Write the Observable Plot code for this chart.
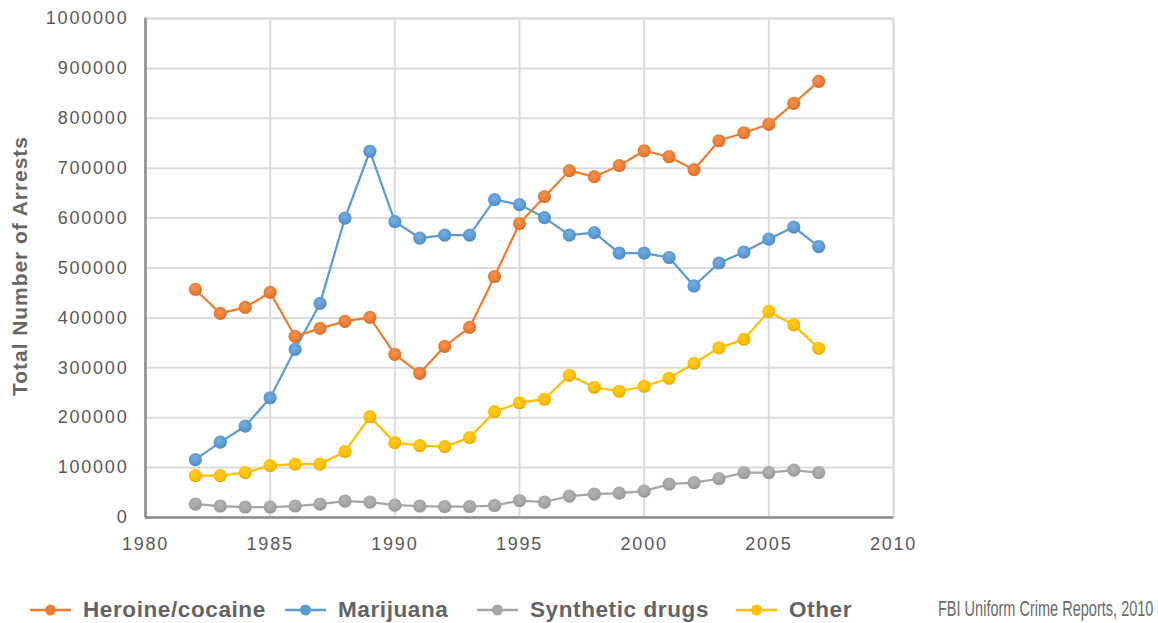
<!DOCTYPE html>
<html>
<head>
<meta charset="utf-8">
<script src="https://cdn.jsdelivr.net/npm/d3@7"></script>
<script src="https://cdn.jsdelivr.net/npm/@observablehq/plot@0.6"></script>
<style>
  html, body { margin: 0; padding: 0; background: #fff; }
  #wrap { position: relative; width: 1158px; height: 623px; overflow: hidden; font-family: "Liberation Sans", Arial, sans-serif; }
  #legend { position: absolute; left: 0; top: 596px; height: 28px; }
  .item { position: absolute; display: flex; align-items: center; height: 28px; top: 0; white-space: nowrap; }
  .item svg { margin-right: 12px; }
  .item span { font-weight: bold; font-size: 22.5px; color: #636366; letter-spacing: 0.6px; }
  #source { position: absolute; right: 5px; top: 596px; font-family: "Liberation Sans", Arial, sans-serif; font-size: 22px; color: #6a6a6a; transform: scaleX(0.66); transform-origin: right center; white-space: nowrap; }
</style>
</head>
<body>
<div id="wrap">
  <div id="chart"></div>
  <div id="legend"></div>
  <div id="source">FBI Uniform Crime Reports, 2010</div>
</div>
<script>
// Drug arrests in the US by drug type, 1982–2007
const years = [1982, 1983, 1984, 1985, 1986, 1987, 1988, 1989, 1990, 1991, 1992, 1993, 1994,
               1995, 1996, 1997, 1998, 1999, 2000, 2001, 2002, 2003, 2004, 2005, 2006, 2007];

const heroineCocaine = [457000, 409000, 421000, 451000, 363000, 379000, 393000, 401000, 327000, 289000, 343000, 381000, 483000,
                        589000, 643000, 695000, 683000, 705000, 735000, 723000, 697000, 755000, 771000, 788000, 830000, 874000];
const marijuana = [116000, 151000, 183000, 240000, 337000, 429000, 600000, 734000, 593000, 560000, 566000, 566000, 637000,
                   627000, 601000, 566000, 571000, 530000, 530000, 521000, 464000, 510000, 532000, 558000, 582000, 543000];
const syntheticDrugs = [27000, 23000, 21000, 21000, 23000, 27000, 33000, 31000, 25000, 23000, 22000, 22000, 24000,
                        34000, 31000, 43000, 47000, 49000, 53000, 67000, 70000, 78000, 90000, 90000, 95000, 90000];
const other = [84000, 84000, 90000, 104000, 107000, 107000, 132000, 202000, 150000, 144000, 142000, 160000, 212000,
               230000, 237000, 285000, 261000, 253000, 263000, 279000, 309000, 340000, 357000, 413000, 386000, 339000];

const seriesNames = ["Heroine/cocaine", "Marijuana", "Synthetic drugs", "Other"];
const seriesValues = [heroineCocaine, marijuana, syntheticDrugs, other];
const seriesColors = ["#ED7D31", "#5B9BD5", "#A5A5A5", "#FFC000"];

// Drawing order: lowest series first so the upper lines sit on top
const drawOrder = [2, 3, 1, 0];

const rows = seriesNames.map((name, i) => years.map((year, j) => ({series: name, year, value: seriesValues[i][j]})));

const gridColor = "#dcdcdc";
const axisColor = "#8c8c8c";
const tickColor = "#595959";

const marks = [
  Plot.gridY({ticks: 10, stroke: gridColor, strokeOpacity: 1, strokeWidth: 2}),
  Plot.gridX({ticks: 6, stroke: gridColor, strokeOpacity: 1, strokeWidth: 2}),
  Plot.frame({stroke: gridColor, strokeWidth: 2}),
  Plot.ruleY([0], {stroke: axisColor, strokeWidth: 2.5}),
  Plot.ruleX([1980], {stroke: axisColor, strokeWidth: 2.5}),
  Plot.axisY({ticks: 10, tickSize: 0, tickPadding: 17, tickFormat: "d", label: null,
              fontSize: 18, fill: tickColor}),
  Plot.axisX({ticks: 6, tickSize: 0, tickPadding: 20, tickFormat: "d", label: null,
              fontSize: 18, fill: tickColor}),
  Plot.text(["Total Number of Arrests"], {frameAnchor: "left", rotate: -90, dx: -125, dy: -2,
              fontSize: 21, fontWeight: "bold", fill: "#666666", textAnchor: "middle", lineAnchor: "middle",
              className: "ytitle"})
];

for (const i of drawOrder) {
  marks.push(Plot.line(rows[i], {x: "year", y: "value", stroke: seriesColors[i], strokeWidth: 2.25}));
  marks.push(Plot.dot(rows[i], {x: "year", y: "value", r: 6.6, fill: `url(#dotShade${i})`, stroke: "none"}));
}

const chart = Plot.plot({
  width: 1158,
  height: 585,
  marginLeft: 145,
  marginRight: 265,
  marginTop: 18,
  marginBottom: 68,
  style: {fontFamily: "'Liberation Sans', Arial, sans-serif", background: "#fff", overflow: "visible"},
  x: {domain: [1980, 2010]},
  y: {domain: [0, 1000000]},
  marks
});

// Soft radial shading for the markers
const svgNS = "http://www.w3.org/2000/svg";
const defs = document.createElementNS(svgNS, "defs");
seriesColors.forEach((c, i) => {
  const g = document.createElementNS(svgNS, "radialGradient");
  g.setAttribute("id", `dotShade${i}`);
  g.setAttribute("cx", "45%");
  g.setAttribute("cy", "38%");
  g.setAttribute("r", "65%");
  const base = d3.color(c);
  const stops = [[0, d3.interpolateRgb(c, "#ffffff")(0.18)], [0.6, base.formatHex()], [1, base.darker(0.35).formatHex()]];
  for (const [o, col] of stops) {
    const s = document.createElementNS(svgNS, "stop");
    s.setAttribute("offset", o);
    s.setAttribute("stop-color", col);
    g.appendChild(s);
  }
  defs.appendChild(g);
});
chart.insertBefore(defs, chart.firstChild);
chart.querySelectorAll("text").forEach(t => { if (/^\d+$/.test(t.textContent)) t.style.letterSpacing = "1.8px"; });
chart.querySelectorAll(".ytitle text").forEach(t => { t.style.letterSpacing = "0.95px"; });

document.getElementById("chart").appendChild(chart);

// Legend below the plot
const legendLeft = [30, 285, 477, 736];
const legend = document.getElementById("legend");
seriesNames.forEach((name, i) => {
  const item = document.createElement("div");
  item.className = "item";
  item.style.left = legendLeft[i] + "px";
  item.innerHTML = `<svg width="41" height="14"><line x1="0" x2="41" y1="7" y2="7" stroke="${seriesColors[i]}" stroke-width="2.5"/>` +
    `<circle cx="20.5" cy="7" r="5.5" fill="${seriesColors[i]}"/></svg><span>${name}</span>`;
  legend.appendChild(item);
});
</script>
</body>
</html>
